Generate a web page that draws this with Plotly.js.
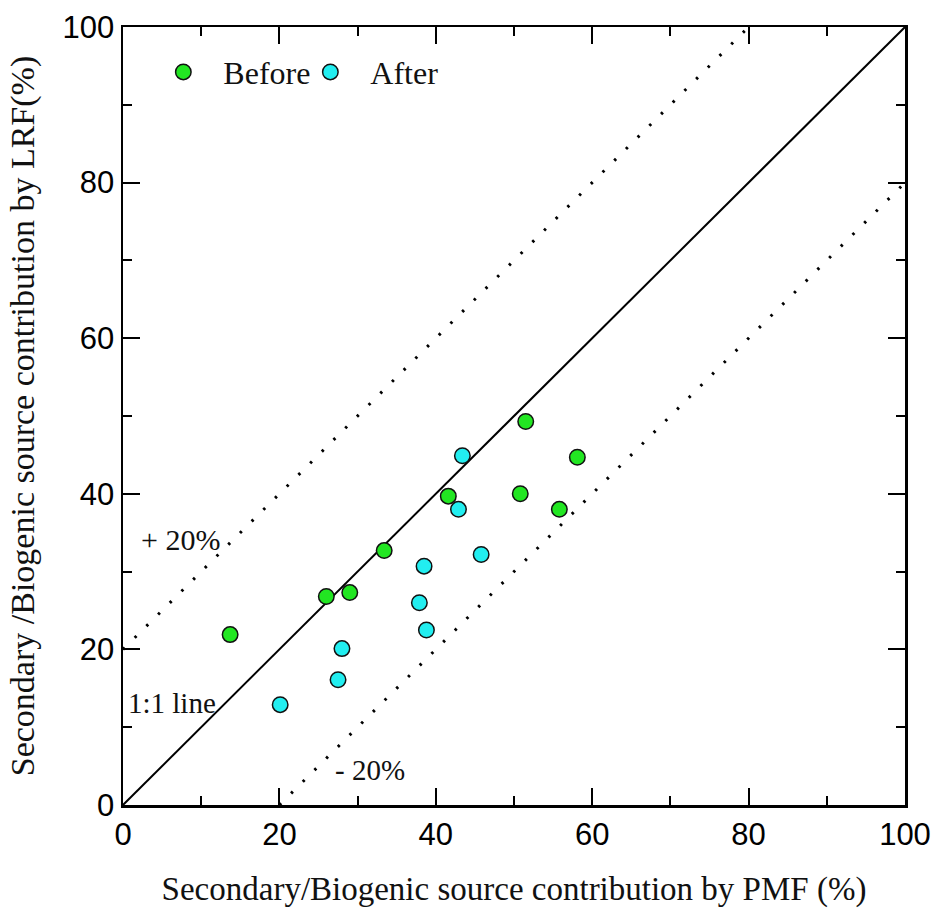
<!DOCTYPE html>
<html>
<head>
<meta charset="utf-8">
<script src="https://cdn.plot.ly/plotly-3.0.1.min.js"></script>
<style>html,body{margin:0;padding:0;background:#fff;}#chart{width:935px;height:911px;}</style>
</head>
<body>
<div id="chart"></div>
<script>
// PMF (x) vs LRF (y) contributions, %
const beforePMF = [51.5, 58.1, 41.6, 50.8, 55.8, 33.4, 26.0, 29.0, 13.7];
const beforeLRF = [49.3, 44.7, 39.7, 40.0, 38.0, 32.7, 26.8, 27.3, 21.9];
const afterPMF  = [43.4, 42.9, 45.8, 38.5, 37.9, 38.8, 28.0, 27.5, 20.1];
const afterLRF  = [44.9, 38.0, 32.2, 30.7, 26.0, 22.5, 20.1, 16.1, 12.9];
// reference lines
const oneToOneX = [0, 100], oneToOneY = [0, 100];
const plus20X = [0, 80],   plus20Y = [20, 100];
const minus20X = [20, 100], minus20Y = [0, 80];
const tickVals = [0, 20, 40, 60, 80, 100];

const serif = '"Liberation Serif", "Times New Roman", serif';
const sans = '"Liberation Sans", Arial, sans-serif';

const traces = [
  {x: oneToOneX, y: oneToOneY, mode: 'lines', line: {color: '#000', width: 2}, showlegend: false, hoverinfo: 'skip'},
  {x: plus20X, y: plus20Y, mode: 'lines', line: {color: '#000', width: 3, dash: '2.5px,14px'}, showlegend: false, hoverinfo: 'skip'},
  {x: minus20X, y: minus20Y, mode: 'lines', line: {color: '#000', width: 3, dash: '2.5px,14px'}, showlegend: false, hoverinfo: 'skip'},
  {x: beforePMF, y: beforeLRF, mode: 'markers', name: 'Before', legend: 'legend',
   marker: {size: 15.5, color: '#22e622', line: {color: '#111', width: 1.5}}},
  {x: afterPMF, y: afterLRF, mode: 'markers', name: 'After', legend: 'legend2',
   marker: {size: 15.5, color: '#22eef0', line: {color: '#111', width: 1.5}}}
];

const axisCommon = {
  range: [0, 100], tickvals: tickVals, ticks: 'inside', ticklen: 17, tickwidth: 2, tickcolor: '#000',
  showline: true, linecolor: '#000', linewidth: 2.5, mirror: 'allticks', showgrid: false, zeroline: false,
  tickfont: {family: sans, size: 31, color: '#000'},
  minor: {dtick: 10, tick0: 0, ticks: 'inside', ticklen: 9, tickwidth: 2, tickcolor: '#000', showgrid: false},
  fixedrange: true
};

const layout = {
  width: 935, height: 911,
  margin: {l: 123, r: 30, t: 27, b: 106},
  paper_bgcolor: '#fff', plot_bgcolor: '#fff',
  showlegend: true,
  xaxis: Object.assign({}, axisCommon, {
    title: {text: 'Secondary/Biogenic source contribution by PMF (%)', font: {family: serif, size: 33, color: '#111'}, standoff: 26}
  }),
  yaxis: Object.assign({}, axisCommon, {
    title: {text: 'Secondary /Biogenic source contribution by LRF(%)', font: {family: serif, size: 34, color: '#111'}, standoff: 18}
  }),
  legend: {x: 0.026, y: 0.942, xanchor: 'left', yanchor: 'middle', bgcolor: 'rgba(0,0,0,0)', borderwidth: 0,
           font: {family: serif, size: 32, color: '#111'}, itemwidth: 70},
  legend2: {x: 0.214, y: 0.942, xanchor: 'left', yanchor: 'middle', bgcolor: 'rgba(0,0,0,0)', borderwidth: 0,
           font: {family: serif, size: 32, color: '#111'}, itemwidth: 70},
  annotations: [
    {x: 7.4, y: 34.1, xref: 'x', yref: 'y', text: '+ 20%', showarrow: false, font: {family: serif, size: 30, color: '#111'}},
    {x: 6.3, y: 13.1, xref: 'x', yref: 'y', text: '1:1 line', showarrow: false, font: {family: serif, size: 29, color: '#111'}},
    {x: 31.6, y: 4.5, xref: 'x', yref: 'y', text: '- 20%', showarrow: false, font: {family: serif, size: 29, color: '#111'}}
  ]
};

Plotly.newPlot('chart', traces, layout, {displayModeBar: false, staticPlot: true});
</script>
</body>
</html>
